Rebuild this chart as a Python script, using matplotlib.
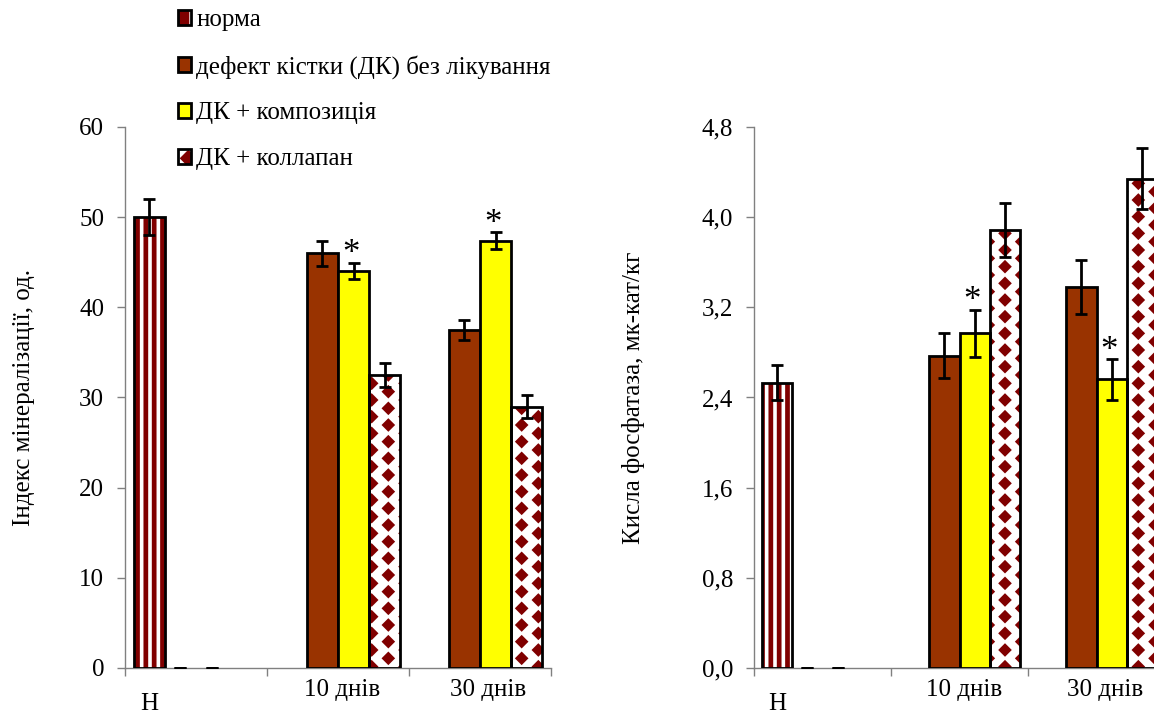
import numpy as np
import matplotlib
matplotlib.use('Agg')
import matplotlib.pyplot as plt
import matplotlib.hatch as mhatch
from matplotlib.path import Path
from matplotlib.patches import Patch

nan = np.nan

categories = ['Н', '10 днів', '30 днів']
series = ['норма', 'дефект кістки (ДК) без лікування', 'ДК + композиція', 'ДК + коллапан']

# індекс мінералізації, од.
min_vals = [[50, nan, nan], [0, 46, 37.5], [0, 44, 47.4], [nan, 32.5, 29]]
min_errs = [[2.0, nan, nan], [0, 1.4, 1.15], [0, 0.9, 0.9], [nan, 1.3, 1.25]]

# кисла фосфатаза, мк-кат/кг
ph_vals = [[2.53, nan, nan], [0, 2.77, 3.38], [0, 2.97, 2.56], [nan, 3.89, 4.34]]
ph_errs = [[0.155, nan, nan], [0, 0.2, 0.24], [0, 0.21, 0.18], [nan, 0.24, 0.27]]

# significant differences (series, category)
stars = [(2, 1), (2, 2)]

face = ['white', '#993300', '#FFFF00', 'white']
hatches = ['||', None, None, '*']
hatch_col = '#800000'
HATCH_LW = 3.4


class DiamondHatch(mhatch.HatchPatternBase):
    # filled diamonds on a staggered grid, used instead of the star hatch
    half = 0.32

    def __init__(self, hatch, density):
        n = hatch.count('*') * density
        pts = []
        if n:
            for c in range(-1, n + 2):
                for r in range(-1, n + 2):
                    pts.append(((c + 0.3) / n, (r + 0.5 * (c % 2)) / n))
        self.n = n
        self.pts = pts
        self.num_vertices = len(pts) * 5

    def set_vertices_and_codes(self, vertices, codes):
        d = self.half / self.n
        shape = np.array([[0, d], [d, 0], [0, -d], [-d, 0], [0, d]])
        code = [Path.MOVETO, Path.LINETO, Path.LINETO, Path.LINETO, Path.CLOSEPOLY]
        for k, (px, py) in enumerate(self.pts):
            vertices[k * 5:(k + 1) * 5] = shape + [px, py]
            codes[k * 5:(k + 1) * 5] = code


mhatch._hatch_types = [DiamondHatch if t is mhatch.Stars else t for t in mhatch._hatch_types]

plt.rcParams['font.family'] = ['Liberation Serif', 'DejaVu Serif']
plt.rcParams['hatch.linewidth'] = HATCH_LW

fig = plt.figure(figsize=(11.54, 7.15), dpi=100)
ax1 = fig.add_axes([125 / 1154, 47 / 715, 426 / 1154, 541 / 715])
ax2 = fig.add_axes([754 / 1154, 47 / 715, 411 / 1154, 541 / 715])

w = 0.22
x = np.arange(1, len(categories) + 1)


def set_hlw(patches, lw):
    for p in patches:
        if hasattr(p, 'set_hatch_linewidth'):
            p.set_hatch_linewidth(lw)


def draw(ax, vals, errs, ymax, step, fmt, ylabel, label_x):
    for i in range(len(series)):
        v = np.array(vals[i], float)
        e = np.array(errs[i], float)
        xs = x + (i - 1.5) * w
        ok = np.nan_to_num(v) > 0
        if hatches[i]:
            b = ax.bar(xs[ok], v[ok], w, color='white', edgecolor=hatch_col,
                       linewidth=0, hatch=hatches[i], zorder=2)
            set_hlw(b, HATCH_LW if i == 0 else 1.5)
            ax.bar(xs[ok], v[ok], w, fill=False, edgecolor='black', linewidth=2, zorder=3)
        else:
            ax.bar(xs[ok], v[ok], w, color=face[i], edgecolor='black', linewidth=2, zorder=3)
        ax.errorbar(xs, v, yerr=e, fmt='none', ecolor='black', elinewidth=2,
                    capsize=4, capthick=2, zorder=4)
    for si, ci in stars:
        top = vals[si][ci] + errs[si][ci]
        ax.annotate('*', (x[ci] + (si - 1.5) * w, top), xytext=(-2, -6),
                    textcoords='offset points', ha='center', va='bottom', fontsize=25)

    ax.set_xlim(0.5, 3.5)
    ax.set_ylim(0, ymax)
    ax.set_xticks(np.arange(0.5, 4, 1))
    ax.set_xticklabels([])
    ticks = np.arange(0, ymax + step / 2, step)
    ax.set_yticks(ticks)
    ax.set_yticklabels([fmt(t) for t in ticks], fontsize=18)
    ax.tick_params(axis='both', length=6, width=1, color='#808080', pad=9)
    for s in ['top', 'right']:
        ax.spines[s].set_visible(False)
    for s in ['left', 'bottom']:
        ax.spines[s].set_color('#808080')
        ax.spines[s].set_linewidth(1)
    for lx, ly, t in zip([0.67, 2.03, 3.06], [-0.066, -0.04, -0.04], categories):
        ax.text(lx, ly, t, transform=ax.get_xaxis_transform(), ha='center', va='center',
                fontsize=18)
    ax.set_ylabel(ylabel, fontsize=18)
    ax.yaxis.set_label_coords(label_x, 0.5)


draw(ax1, min_vals, min_errs, 60, 10, lambda t: f'{t:.0f}',
     'Індекс мінералізації, од.', -0.212)
draw(ax2, ph_vals, ph_errs, 4.8, 0.8, lambda t: f'{t:.1f}'.replace('.', ','),
     'Кисла фосфатаза, мк-кат/кг', -0.266)

handles = []
for i in range(len(series)):
    if hatches[i]:
        hp = Patch(facecolor=hatch_col if i == 0 else 'white', edgecolor='white' if i == 0 else hatch_col,
                   linewidth=0, hatch='|' if i == 0 else '*')
        set_hlw([hp], 2.5 if i == 0 else 1.5)
        handles.append((hp, Patch(fill=False, edgecolor='black', linewidth=2)))
    else:
        handles.append(Patch(facecolor=face[i], edgecolor='black', linewidth=2))

fig.legend(handles, series, loc='upper left', bbox_to_anchor=(160 / 1154, 1.012),
           frameon=False, fontsize=18, handlelength=0.55, handleheight=0.55,
           handletextpad=0.2, labelspacing=0.95, borderpad=0.2)

fig.savefig('out.png', dpi=100)
